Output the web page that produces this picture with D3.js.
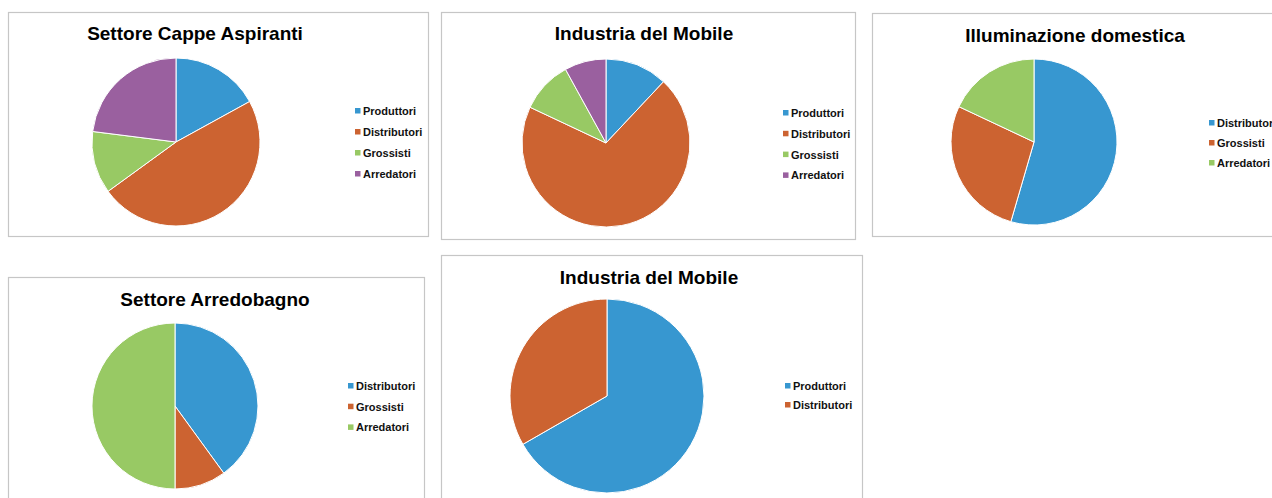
<!DOCTYPE html>
<html><head><meta charset="utf-8">
<script src="https://cdn.jsdelivr.net/npm/d3@7"></script>
<style>body{margin:0;background:#fff}svg{display:block}</style>
</head><body>
<svg id="c" width="1272" height="498"></svg>
<script>
// ---- data ----
const titles = ["Settore Cappe Aspiranti","Industria del Mobile","Illuminazione domestica","Settore Arredobagno","Industria del Mobile"];
const cappeCats = ["Produttori","Distributori","Grossisti","Arredatori"];
const cappeVals = [17,48,12,23];
const mobile1Cats = ["Produttori","Distributori","Grossisti","Arredatori"];
const mobile1Vals = [12,70,10,8];
const illumCats = ["Distributori","Grossisti","Arredatori"];
const illumVals = [54.5,27.5,18];
const bagnoCats = ["Distributori","Grossisti","Arredatori"];
const bagnoVals = [40,10,50];
const mobile2Cats = ["Produttori","Distributori"];
const mobile2Vals = [66.7,33.3];

const catColor = d3.scaleOrdinal()
  .domain(["Produttori","Distributori","Grossisti","Arredatori"])
  .range(["#3797d0","#cc6331","#98c964","#9a609f"]);
// order-based colours (Excel assigns by series position)
const posColors = ["#3797d0","#cc6331","#98c964","#9a609f"];

// ---- layout ----
const layouts = [
  {cats:cappeCats, vals:cappeVals, frame:[8,12,420,224], title:[195,40], c:[176,142], r:84, leg:[355,111,21]},
  {cats:mobile1Cats, vals:mobile1Vals, frame:[441,12,414,227], title:[644,40], c:[606,143], r:84, leg:[783,113,20.8]},
  {cats:illumCats, vals:illumVals, frame:[872,13,430,223], title:[1075,42], c:[1034,142], r:83, leg:[1209,123,20]},
  {cats:bagnoCats, vals:bagnoVals, frame:[8,277,416,260], title:[215,306], c:[175,406], r:83, leg:[348,386,20.7]},
  {cats:mobile2Cats, vals:mobile2Vals, frame:[441,255,421,260], title:[649,284], c:[607,396], r:97, leg:[785,386,19]}
];

const svg = d3.select("#c");
const pie = d3.pie().sort(null).value(d=>d.v);

layouts.forEach((L,i)=>{
  const g = svg.append("g");
  g.append("rect").attr("x",L.frame[0]+0.5).attr("y",L.frame[1]+0.5)
    .attr("width",L.frame[2]).attr("height",L.frame[3])
    .attr("fill","#fff").attr("stroke","#c6c6c6").attr("stroke-width",1.2);
  g.append("text").attr("x",L.title[0]).attr("y",L.title[1])
    .attr("text-anchor","middle")
    .attr("font-family","'Liberation Sans', Arial, sans-serif")
    .attr("font-weight","bold").attr("font-size",19).attr("fill","#000")
    .text(titles[i]);
  const data = L.cats.map((c,j)=>({c, v:L.vals[j], col:posColors[j]}));
  const arc = d3.arc().innerRadius(0).outerRadius(L.r);
  g.append("g").attr("transform",`translate(${L.c[0]},${L.c[1]})`)
    .selectAll("path").data(pie(data)).join("path")
    .attr("d",arc).attr("fill",d=>d.data.col)
    .attr("stroke","#fff").attr("stroke-width",1);
  const leg = g.append("g");
  data.forEach((d,j)=>{
    const y = L.leg[1] + j*L.leg[2];
    leg.append("rect").attr("x",L.leg[0]).attr("y",y-3).attr("width",5.5).attr("height",5.5).attr("fill",d.col);
    leg.append("text").attr("x",L.leg[0]+8).attr("y",y+4)
      .attr("font-family","'Liberation Sans', Arial, sans-serif")
      .attr("font-weight","bold").attr("font-size",11).attr("fill","#111")
      .text(d.c);
  });
});
</script>
</body></html>
